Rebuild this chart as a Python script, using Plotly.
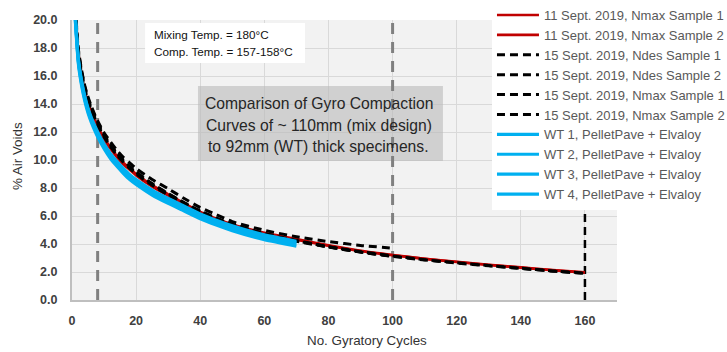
import plotly.graph_objects as go

# Gyration counts at which air voids were recorded
n_nmax = [1, 2, 3, 4, 5, 6, 7, 8, 10, 12, 14, 16, 18, 20, 25, 30, 35, 40, 45, 50,
          60, 70, 80, 90, 100, 110, 120, 130, 140, 150, 160]
n_ndes = n_nmax[:25]   # up to 100 gyrations
n_wt = n_nmax[:22]     # up to 70 gyrations

# 11 Sept. 2019 mix design samples compacted to Nmax
sep11_nmax_s1 = [20.6, 17.6, 16.0, 14.9, 14.1, 13.45, 12.9, 12.4, 11.55, 10.9, 10.3, 9.8, 9.4,
                 9.0, 8.2, 7.55, 6.9, 6.3, 5.8, 5.4, 4.8, 4.35, 3.9, 3.52, 3.22, 2.95, 2.73,
                 2.52, 2.33, 2.14, 1.97]
sep11_nmax_s2 = [20.5, 17.5, 15.9, 14.8, 14.0, 13.35, 12.8, 12.3, 11.45, 10.8, 10.2, 9.7, 9.3,
                 8.9, 8.1, 7.45, 6.85, 6.25, 5.75, 5.35, 4.75, 4.3, 3.88, 3.5, 3.2, 2.94, 2.71,
                 2.5, 2.31, 2.12, 1.95]

# 15 Sept. 2019 samples
sep15_ndes_s1 = [21.0, 17.9, 16.4, 15.3, 14.5, 13.85, 13.3, 12.8, 11.95, 11.3, 10.7, 10.2, 9.8,
                 9.4, 8.6, 7.95, 7.25, 6.6, 6.1, 5.6, 4.98, 4.52, 4.17, 3.9, 3.7]
sep15_ndes_s2 = [20.8, 17.7, 16.2, 15.1, 14.3, 13.65, 13.1, 12.6, 11.75, 11.05, 10.45, 9.95, 9.5,
                 9.1, 8.3, 7.6, 6.95, 6.35, 5.85, 5.4, 4.75, 4.25, 3.8, 3.42, 3.12]
sep15_nmax_s1 = [20.9, 17.8, 16.3, 15.2, 14.4, 13.75, 13.2, 12.7, 11.8, 11.1, 10.5, 10.0, 9.55,
                 9.15, 8.3, 7.6, 6.95, 6.35, 5.85, 5.4, 4.72, 4.22, 3.8, 3.45, 3.15, 2.88, 2.66,
                 2.46, 2.27, 2.08, 1.92]
sep15_nmax_s2 = [20.7, 17.6, 16.1, 15.0, 14.2, 13.55, 13.0, 12.5, 11.65, 10.95, 10.35, 9.85, 9.4,
                 9.0, 8.2, 7.5, 6.9, 6.3, 5.8, 5.35, 4.7, 4.2, 3.78, 3.42, 3.12, 2.86, 2.64,
                 2.44, 2.25, 2.06, 1.9]

# Wearing-course (WT) specimens, PelletPave + Elvaloy
wt1 = [20.4, 17.2, 15.65, 14.55, 13.7, 13.05, 12.5, 12.0, 11.15, 10.45, 9.9, 9.4, 8.95, 8.6,
       7.85, 7.25, 6.7, 6.15, 5.7, 5.3, 4.65, 4.2]
wt2 = [20.3, 17.1, 15.55, 14.45, 13.6, 12.95, 12.4, 11.9, 11.05, 10.35, 9.8, 9.3, 8.85, 8.5,
       7.75, 7.15, 6.6, 6.05, 5.6, 5.2, 4.55, 4.1]
wt3 = [20.2, 17.0, 15.45, 14.35, 13.5, 12.85, 12.3, 11.8, 10.95, 10.25, 9.7, 9.2, 8.75, 8.4,
       7.65, 7.05, 6.5, 5.95, 5.5, 5.1, 4.45, 4.0]
wt4 = [20.1, 16.85, 15.3, 14.2, 13.35, 12.7, 12.15, 11.65, 10.8, 10.1, 9.55, 9.05, 8.6, 8.25,
       7.5, 6.9, 6.35, 5.8, 5.35, 4.95, 4.3, 3.85]

# Reference gyration levels: Nini, Ndes, Nmax
n_ini, n_des, n_max = 8, 100, 160

x_ticks = [0, 20, 40, 60, 80, 100, 120, 140, 160]
y_ticks = [0, 2, 4, 6, 8, 10, 12, 14, 16, 18, 20]

info_lines = ["Mixing Temp. = 180°C", "Comp. Temp. = 157-158°C"]
note_lines = ["Comparison of Gyro Compaction", "Curves of ~ 110mm (mix design)",
              "to 92mm (WT) thick specimens."]

FONT = "Liberation Sans, Arial, sans-serif"
RED = "#c00000"
BLUE = "#00b0f0"
BLACK_DASH = "8px,5px"

series = [
    ("11 Sept. 2019, Nmax Sample 1", n_nmax, sep11_nmax_s1, RED, 2.6, "solid"),
    ("11 Sept. 2019, Nmax Sample 2", n_nmax, sep11_nmax_s2, RED, 2.6, "solid"),
    ("15 Sept. 2019, Ndes Sample 1", n_ndes, sep15_ndes_s1, "black", 3, BLACK_DASH),
    ("15 Sept. 2019, Ndes Sample 2", n_ndes, sep15_ndes_s2, "black", 3, BLACK_DASH),
    ("15 Sept. 2019, Nmax Sample 1", n_nmax, sep15_nmax_s1, "black", 3, BLACK_DASH),
    ("15 Sept. 2019, Nmax Sample 2", n_nmax, sep15_nmax_s2, "black", 3, BLACK_DASH),
    ("WT 1, PelletPave + Elvaloy", n_wt, wt1, BLUE, 3.2, "solid"),
    ("WT 2, PelletPave + Elvaloy", n_wt, wt2, BLUE, 3.2, "solid"),
    ("WT 3, PelletPave + Elvaloy", n_wt, wt3, BLUE, 3.2, "solid"),
    ("WT 4, PelletPave + Elvaloy", n_wt, wt4, BLUE, 3.2, "solid"),
]

fig = go.Figure()
for i, (name, xs, ys, color, width, dash) in enumerate(series):
    fig.add_trace(go.Scatter(
        x=xs, y=ys, name=name, mode="lines", legendgroup=f"g{i}",
        line=dict(color=color, width=width, dash=dash, shape="spline", smoothing=0.6),
    ))

# Text boxes behind the notes
fig.add_shape(type="rect", xref="x", yref="y", x0=22.8, x1=72.7, y0=16.93, y1=19.79,
              fillcolor="white", line_width=0, layer="between")
fig.add_shape(type="rect", xref="x", yref="y", x0=39.3, x1=115.7, y0=9.93, y1=15.29,
              fillcolor="rgba(185,185,185,0.6)", line_width=0, layer="between")

# Vertical markers at Nini, Ndes and Nmax
for xv, col, w, d in [(n_ini, "#808080", 3, "11px,8px"), (n_des, "#808080", 3, "11px,8px"),
                      (n_max, "black", 2.5, "8px,5px")]:
    fig.add_shape(type="line", xref="x", yref="y", x0=xv, x1=xv, y0=0, y1=20,
                  line=dict(color=col, width=w, dash=d), layer="between")

annotations = []
for i, t in enumerate(info_lines):
    annotations.append(dict(text=t, xref="paper", yref="paper", x=0.1462,
                            y=[0.950, 0.887][i], xanchor="left", yanchor="middle",
                            showarrow=False, font=dict(family=FONT, size=11.7, color="#111111")))
for i, t in enumerate(note_lines):
    annotations.append(dict(text=t, xref="paper", yref="paper", x=0.4532,
                            y=[0.703, 0.622, 0.547][i], xanchor="center", yanchor="middle",
                            showarrow=False, font=dict(family=FONT, size=15.7, color="#262626")))
annotations.append(dict(text="No. Gyratory Cycles", xref="paper", yref="paper", x=0.542,
                        y=-0.143, xanchor="center", yanchor="middle", showarrow=False,
                        font=dict(family=FONT, size=13.4, color="#333333")))
annotations.append(dict(text="% Air Voids", xref="paper", yref="paper", x=-0.1009,
                        y=0.514, xanchor="center", yanchor="middle", textangle=-90,
                        showarrow=False, font=dict(family=FONT, size=13.4, color="#333333")))

fig.update_layout(
    width=727, height=352,
    margin=dict(l=72, r=110, t=20, b=52, pad=0, autoexpand=False),
    paper_bgcolor="white", plot_bgcolor="#f2f2f2",
    font=dict(family=FONT),
    showlegend=True,
    legend=dict(x=0.7706, y=1.0714, xanchor="left", yanchor="top", bgcolor="white",
                borderwidth=0, font=dict(family=FONT, size=13, color="#595959"),
                itemwidth=42, tracegroupgap=1.2, traceorder="normal", maxheight=300),
    annotations=annotations,
    xaxis=dict(range=[0, 170], tickvals=x_ticks, ticks="", showgrid=True,
               gridcolor="#d9d9d9", gridwidth=1.3, zeroline=False, showline=True,
               linecolor="#bfbfbf", linewidth=2,
               tickfont=dict(family=FONT, size=12.5, color="#404040", weight="bold"),
               ticklabelstandoff=8),
    yaxis=dict(range=[0, 20], tickvals=y_ticks, tickformat=".1f", ticks="", showgrid=True,
               gridcolor="#d9d9d9", gridwidth=1.3, zeroline=False, showline=True,
               linecolor="#bfbfbf", linewidth=2,
               tickfont=dict(family=FONT, size=12.5, color="#404040", weight="bold"),
               ticklabelstandoff=10),
)

fig.write_html("out.html")
